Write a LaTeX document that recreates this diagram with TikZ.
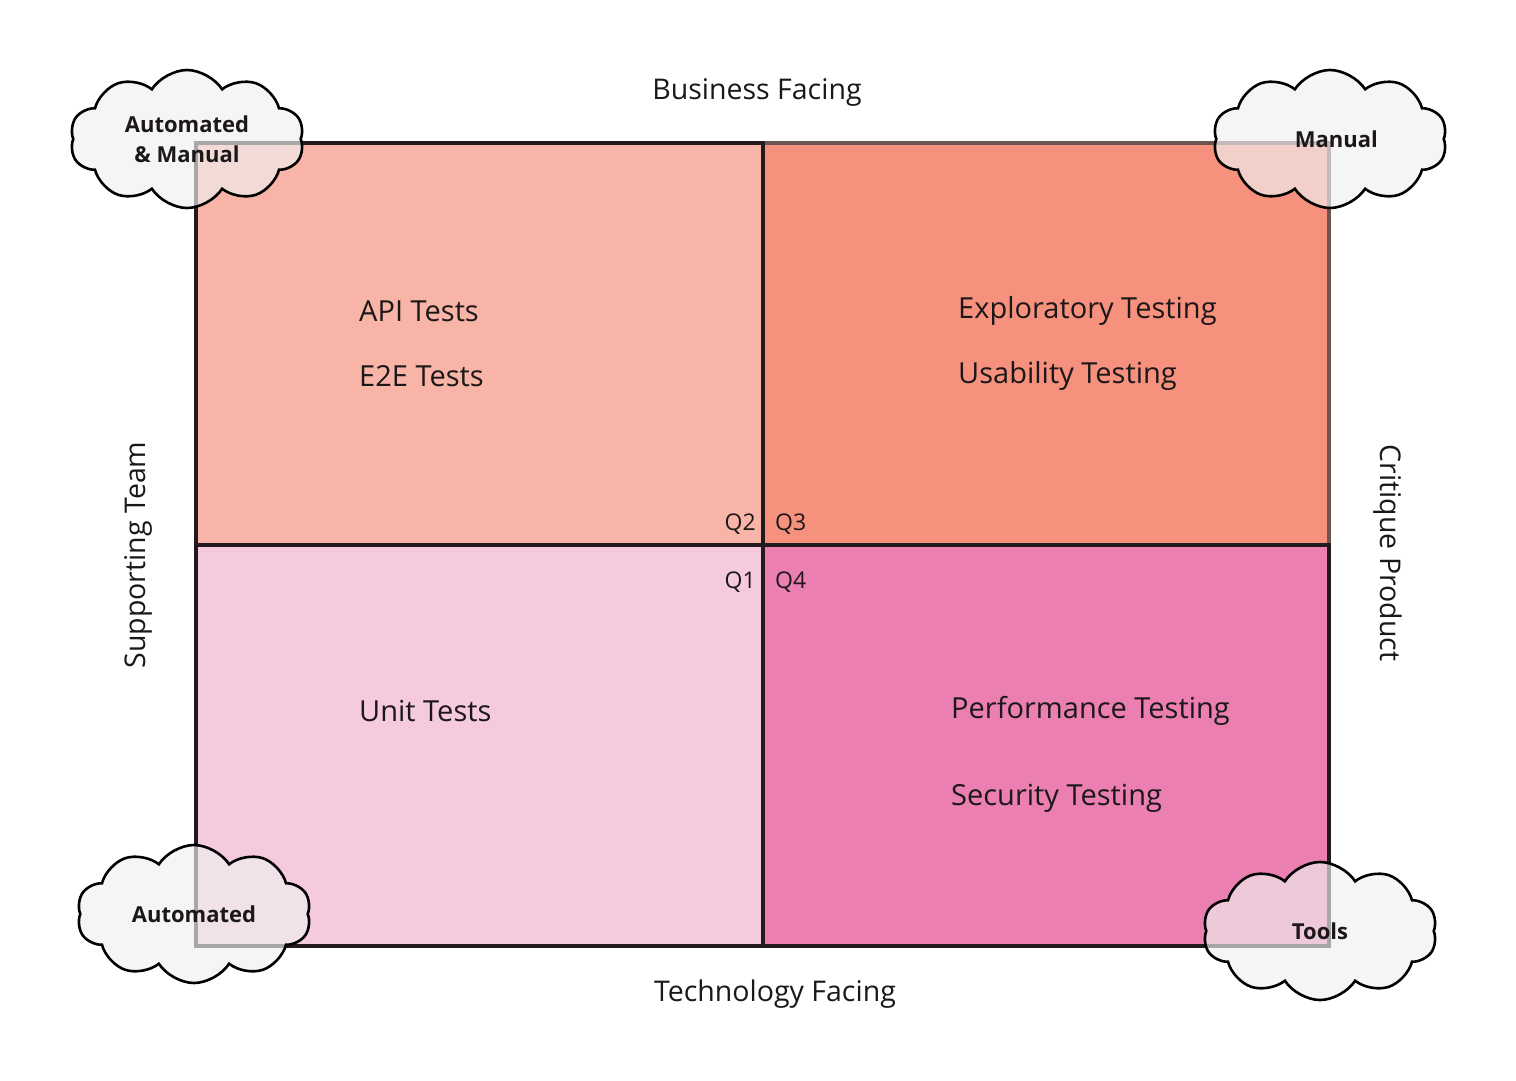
\documentclass[tikz,border=0pt]{standalone}
\usepackage{fontspec}
\setmainfont{Open Sans}
\usetikzlibrary{shapes.symbols}
\definecolor{cQone}{HTML}{F5C9DE}
\definecolor{cQtwo}{HTML}{F8B4A6}
\definecolor{cQthree}{HTML}{F6917D}
\definecolor{cQfour}{HTML}{EB7FB1}
\definecolor{cline}{HTML}{221A1F}
\definecolor{clinegray}{HTML}{6E5552}
\definecolor{ctext}{HTML}{1C1719}
\definecolor{ccloud}{HTML}{F0F0F0}
\tikzset{
  quad/.style={draw=cline, line width=3.2pt, inner sep=0pt, outer sep=0pt},
  lbl/.style={text=ctext, font=\fontsize{28.5}{33}\selectfont, inner sep=0pt},
  itm/.style={text=ctext, font=\fontsize{29}{34}\selectfont, inner sep=0pt, anchor=west},
  qlbl/.style={text=ctext, font=\fontsize{23}{27}\selectfont, inner sep=0pt},
  cloudbox/.style={cloud, cloud puffs=10, cloud puff arc=115, aspect=1.7, draw=black, line width=2.6pt,
     fill=ccloud, fill opacity=0.66, text opacity=1, minimum width=234pt, minimum height=138pt, inner sep=0pt,
     text=ctext, font=\bfseries\fontsize{22}{30}\selectfont, align=center},
}
\begin{document}
\begin{tikzpicture}[x=1pt,y=-1pt]
\useasboundingbox (0,0) rectangle (1516,1080);
\fill[white] (0,0) rectangle (1516,1080);
% quadrants
\node[quad, draw=clinegray, fill=cQthree, minimum width=566pt, minimum height=402pt] (q3) at (1046,344) {};
\node[quad, fill=cQtwo, minimum width=567pt, minimum height=402pt] (q2) at (479.5,344) {};
\node[quad, fill=cQone, minimum width=567pt, minimum height=401pt] (q1) at (479.5,745.5) {};
\node[quad, fill=cQfour, minimum width=566pt, minimum height=401pt] (q4) at (1046,745.5) {};
% axis labels
\node[lbl] (bf) at (757,92) {Business Facing};
\node[lbl] (tf) at (775,994) {Technology Facing};
\node[lbl, rotate=90] (st) at (138,555) {Supporting Team};
\node[lbl, rotate=-90] (cp) at (1388,553) {Critique Product};
% items
\node[itm] (api) at (359,311) {API Tests};
\node[itm] (e2e) at (359,376) {E2E Tests};
\node[itm] (expl) at (958,311) {Exploratory Testing};
\node[itm] (usab) at (958,376) {Usability Testing};
\node[itm] (unit) at (359,711) {Unit Tests};
\node[itm] (perf) at (951,711) {Performance Testing};
\node[itm] (sec) at (951,798) {Security Testing};
% quadrant names
\node[qlbl, anchor=east] (lq2) at (756,524) {Q2};
\node[qlbl, anchor=west] (lq3) at (775,524) {Q3};
\node[qlbl, anchor=east] (lq1) at (756,582) {Q1};
\node[qlbl, anchor=west] (lq4) at (775,582) {Q4};
% clouds
\node[cloudbox] (c1) at (187,139) {Automated\\\& Manual};
\node[cloudbox] (c2) at (1330,139) {\phantom{x}Manual};
\node[cloudbox] (c3) at (194,914) {Automated};
\node[cloudbox] (c4) at (1320,931) {Tools};
\end{tikzpicture}
\end{document}
